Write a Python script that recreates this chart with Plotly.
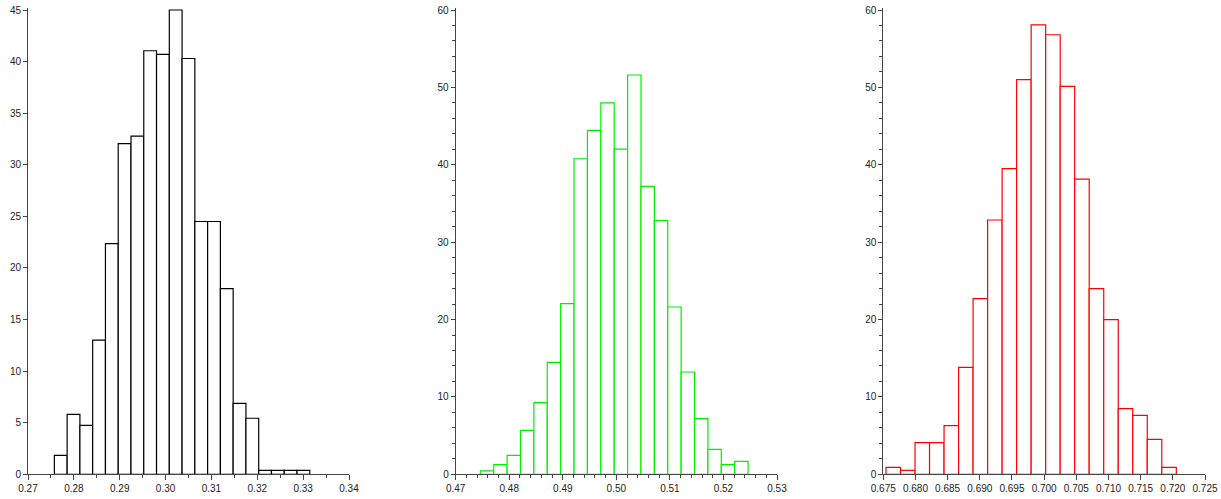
import numpy as np
import plotly.graph_objects as go

# Histogram 1 (black)
bins1_min, bins1_max = 0.27575, 0.33145
heights1 = [1.84, 5.81, 4.75, 13.0, 22.35, 32.05, 32.78, 41.05, 40.7, 45.0,
            40.3, 24.5, 24.5, 18.0, 6.88, 5.43, 0.39, 0.39, 0.39, 0.39]

# Histogram 2 (green)
bins2_min, bins2_max = 0.4746, 0.5246
heights2 = [0.45, 1.25, 2.45, 5.68, 9.26, 14.47, 22.05, 40.78, 44.44, 48.0,
            42.03, 51.6, 37.2, 32.8, 21.62, 13.22, 7.19, 3.23, 1.25, 1.68]

# Histogram 3 (red)
bins3_min, bins3_max = 0.67542, 0.72054
heights3 = [0.90, 0.52, 4.09, 4.09, 6.29, 13.82, 22.7, 32.86, 39.49, 50.99,
            58.09, 56.8, 50.13, 38.15, 23.99, 19.98, 8.48, 7.62, 4.52, 0.90]

W, H = 1221, 499
AX = "#444444"
FONT = dict(family="Liberation Sans, Arial, sans-serif", size=10, color="#222222")

panels = [
    dict(lo=bins1_min, hi=bins1_max, h=heights1, color="#000000",
         xr=[0.27, 0.34], xd=0.01, xminor=0.005, xfmt=".2f",
         yr=[0, 45], yd=5, yminor=None, px=(28, 349)),
    dict(lo=bins2_min, hi=bins2_max, h=heights2, color="#00ee00",
         xr=[0.47, 0.53], xd=0.01, xminor=0.002, xfmt=".2f",
         yr=[0, 60], yd=10, yminor=2, px=(455.7, 777)),
    dict(lo=bins3_min, hi=bins3_max, h=heights3, color="#ff0000",
         xr=[0.675, 0.725], xd=0.005, xminor=None, xfmt=".3f",
         yr=[0, 60], yd=10, yminor=2, px=(883.3, 1205)),
]

Y0, Y1 = 474.3, 10.0   # pixel rows of y=0 and y=top
PAD = 2.0               # extra pixels above the top so the tallest outline is not clipped

fig = go.Figure()
layout = {}
for i, p in enumerate(panels, start=1):
    edges = np.linspace(p["lo"], p["hi"], len(p["h"]) + 1)
    centers = (edges[:-1] + edges[1:]) / 2
    widths = np.diff(edges)
    sfx = "" if i == 1 else str(i)
    ytop = p["yr"][1]
    upp = ytop / (Y0 - Y1)
    ydom = [(H - Y0) / H, (H - (Y1 - PAD)) / H]
    fig.add_trace(go.Bar(
        x=centers, y=p["h"], width=widths, cliponaxis=False,
        marker=dict(color="white", line=dict(color=p["color"], width=1.2)),
        xaxis="x" + sfx, yaxis="y" + sfx, showlegend=False, hoverinfo="skip",
    ))
    xa = dict(domain=[p["px"][0] / W, p["px"][1] / W], range=p["xr"],
              anchor="y" + sfx, tick0=p["xr"][0], dtick=p["xd"], tickformat=p["xfmt"],
              showline=True, linecolor=AX, linewidth=1, ticks="outside",
              ticklen=5, tickcolor=AX, tickwidth=1, showgrid=False, zeroline=False,
              tickfont=FONT, fixedrange=True, automargin=False)
    if p["xminor"]:
        xa["minor"] = dict(dtick=p["xminor"], tick0=p["xr"][0], ticks="outside",
                           ticklen=3, tickcolor=AX, tickwidth=1, showgrid=False)
    ya = dict(domain=ydom, range=[0, ytop + PAD * upp], anchor="x" + sfx,
              tick0=0, dtick=p["yd"],
              showline=True, linecolor=AX, linewidth=1, ticks="outside",
              ticklen=4, tickcolor=AX, tickwidth=1, showgrid=False, zeroline=False,
              tickfont=FONT, fixedrange=True, automargin=False)
    if p["yminor"]:
        ya["minor"] = dict(dtick=p["yminor"], tick0=0, ticks="outside", ticklen=3,
                           tickcolor=AX, tickwidth=1, showgrid=False)
    layout["xaxis" + sfx] = xa
    layout["yaxis" + sfx] = ya

fig.update_layout(**layout)
fig.update_layout(width=W, height=H, margin=dict(l=0, r=0, t=0, b=0, autoexpand=False),
                  paper_bgcolor="white", plot_bgcolor="white",
                  bargap=0, barmode="overlay", font=FONT, hovermode=False)
fig.write_html("out.html", config={"displayModeBar": False, "staticPlot": True},
               post_script="document.body.style.margin='0';document.body.style.overflow='hidden';")
